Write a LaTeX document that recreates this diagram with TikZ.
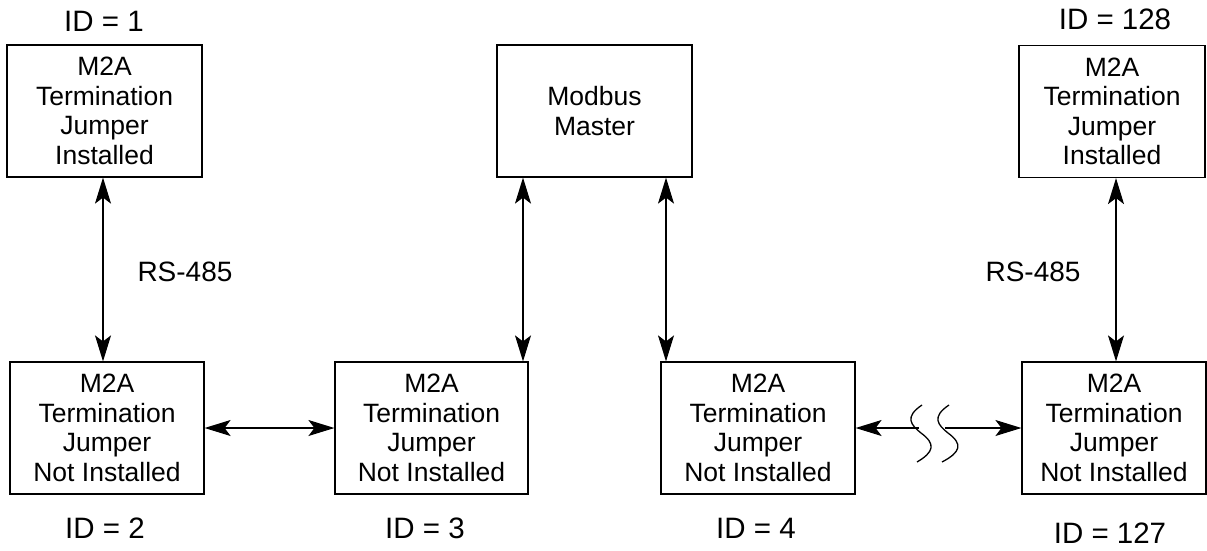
\documentclass[tikz,border=0pt]{standalone}
\usepackage{fontspec}
\setmainfont{Liberation Sans}
\usetikzlibrary{arrows.meta}
\begin{document}
\begin{tikzpicture}[x=1pt,y=-1pt,
  box/.style={draw, line width=1.2pt, align=center, inner sep=0pt,
    font=\fontsize{26.5}{29.5}\selectfont},
  lbl/.style={inner sep=0pt, font=\fontsize{29.5}{32}\selectfont},
  rs/.style={inner sep=0pt, font=\fontsize{28}{32}\selectfont},
  conn/.style={line width=1.2pt, {Stealth[length=26pt,width=16pt,inset=6pt]}-{Stealth[length=26pt,width=16pt,inset=6pt]}},
  conr/.style={line width=1.2pt, -{Stealth[length=26pt,width=16pt,inset=6pt]}},
  brk/.style={line width=1.3pt}]
\useasboundingbox (0,0) rectangle (1207,550);
% boxes
\node[box, minimum width=195pt, minimum height=132pt] (b1) at (104.5,111) {M2A\\Termination\\Jumper\\Installed};
\node[box, minimum width=195pt, minimum height=132pt] (mm) at (594.5,111) {Modbus\\Master};
\node[box, minimum width=186pt, minimum height=132pt] (b128) at (1112,111.5) {M2A\\Termination\\Jumper\\Installed};
\node[box, minimum width=194pt, minimum height=132pt] (b2) at (107,428) {M2A\\Termination\\Jumper\\Not Installed};
\node[box, minimum width=193pt, minimum height=132pt] (b3) at (431.5,428) {M2A\\Termination\\Jumper\\Not Installed};
\node[box, minimum width=194pt, minimum height=132pt] (b4) at (758,428) {M2A\\Termination\\Jumper\\Not Installed};
\node[box, minimum width=184pt, minimum height=132pt] (b127) at (1114,428) {M2A\\Termination\\Jumper\\Not Installed};
% labels
\node[lbl] (id1) at (104,21) {ID = 1};
\node[lbl] (id128) at (1115,19) {ID = 128};
\node[rs] (rs1) at (185,272) {RS-485};
\node[rs] (rs2) at (1033,272) {RS-485};
\node[lbl] (id2) at (105,528) {ID = 2};
\node[lbl] (id3) at (425,528) {ID = 3};
\node[lbl] (id4) at (756,528) {ID = 4};
\node[lbl] (id127) at (1110,533) {ID = 127};
% vertical connectors
\draw[conn] (b1.south -| 103,0) -- (b2.north -| 103,0);
\draw[conn] (mm.south -| 523,0) -- (b3.north -| 523,0);
\draw[conn] (mm.south -| 666,0) -- (b4.north -| 666,0);
\draw[conn] (b128.south -| 1116,0) -- (b127.north -| 1116,0);
% horizontal connectors
\draw[conn] (b2.east) -- (b3.west);
\coordinate (k1) at (919,428);
\coordinate (k2) at (945,428);
\draw[conr] (k1) -- (b4.east);
\draw[conr] (k2) -- (b127.west);
% break marks
\draw[brk] (922,405) .. controls (904,417) and (911,425) .. (921,433)
  .. controls (936,444) and (934,452) .. (917,462);
\draw[brk] (949,405) .. controls (931,417) and (938,425) .. (948,433)
  .. controls (963,444) and (961,452) .. (942,462);
\end{tikzpicture}
\end{document}
